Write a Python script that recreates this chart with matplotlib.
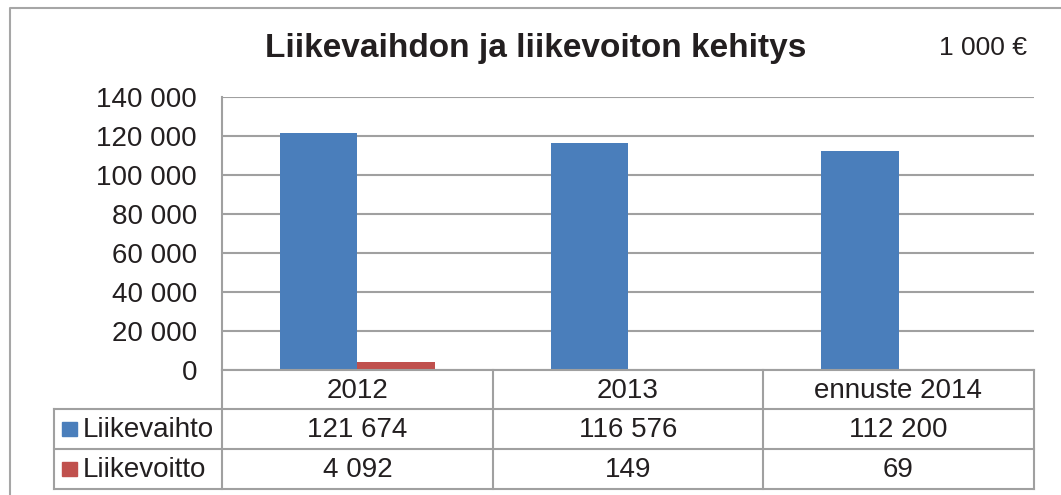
import matplotlib.pyplot as plt
from matplotlib.lines import Line2D
from matplotlib.patches import Rectangle

plt.rcParams['font.family'] = ['Liberation Sans', 'DejaVu Sans']

# Data
categories = ['2012', '2013', 'ennuste 2014']
liikevaihto = [121674, 116576, 112200]
liikevoitto = [4092, 149, 69]
series_names = ['Liikevaihto', 'Liikevoitto']
value_labels = [['121 674', '116 576', '112 200'], ['4 092', '149', '69']]
y_ticks = [0, 20000, 40000, 60000, 80000, 100000, 120000, 140000]
y_ticklabels = ['0', '20 000', '40 000', '60 000', '80 000', '100 000', '120 000', '140 000']

blue = '#4a7ebb'
red = '#c0504d'
grid_col = '#a0a0a0'
text_col = '#231f20'

W, H = 1061, 495
fig = plt.figure(figsize=(W / 100, H / 100), dpi=100)


def fx(px):
    return px / W


def fy(py):
    return 1 - py / H


# outer chart border (left/top visible)
fig.add_artist(Line2D([fx(10), fx(10), fx(1061)], [fy(495), fy(7.5), fy(7.5)],
                      color='#a6a6a6', lw=1.5))

# Plot area
left, right, top, bottom = 222, 1034, 97, 370
ax = fig.add_axes([fx(left), fy(bottom), fx(right - left), (bottom - top) / H])

x = range(len(categories))
bw = 1 / 3.5
ax.bar([i - bw / 2 for i in x], liikevaihto, width=bw, color=blue, zorder=3)
ax.bar([i + bw / 2 for i in x], liikevoitto, width=bw, color=red, zorder=3)

ax.set_xlim(-0.5, len(categories) - 0.5)
ax.set_ylim(0, 140000)
ax.set_yticks(y_ticks)
ax.set_yticklabels(y_ticklabels, fontsize=20, color=text_col)
ax.tick_params(axis='y', length=0, pad=18)
ax.set_xticks([])
ax.yaxis.grid(True, color=grid_col, lw=1.5, zorder=0)
for s in ['top', 'right', 'bottom']:
    ax.spines[s].set_visible(False)
ax.spines['left'].set_color(grid_col)
ax.spines['left'].set_linewidth(1.5)

# Title and unit
fig.text(fx(536), fy(48), 'Liikevaihdon ja liikevoiton kehitys', ha='center', va='center',
         fontsize=24, fontweight='bold', color=text_col)
fig.text(fx(1027), fy(48), '1 000 €', ha='right', va='center', fontsize=19, color=text_col)

# Data table
rows = [370, 409, 449, 489]
cols = [222, 493, 763, 1034]
tleft = 54
lw = 1.5
for c in cols:
    fig.add_artist(Line2D([fx(c), fx(c)], [fy(rows[0]), fy(rows[-1])], color=grid_col, lw=lw))
fig.add_artist(Line2D([fx(left), fx(right)], [fy(rows[0]), fy(rows[0])], color=grid_col, lw=lw))
for r in rows[1:]:
    fig.add_artist(Line2D([fx(tleft), fx(right)], [fy(r), fy(r)], color=grid_col, lw=lw))
fig.add_artist(Line2D([fx(tleft), fx(tleft)], [fy(rows[1]), fy(rows[-1])], color=grid_col, lw=lw))

for j, cat in enumerate(categories):
    cx = (cols[j] + cols[j + 1]) / 2
    fig.text(fx(cx), fy((rows[0] + rows[1]) / 2 + 1), cat, ha='center', va='center',
             fontsize=20, color=text_col)
    for i in range(2):
        cy = (rows[i + 1] + rows[i + 2]) / 2 + 1
        fig.text(fx(cx), fy(cy), value_labels[i][j], ha='center', va='center',
                 fontsize=20, color=text_col)

for i, (name, col) in enumerate(zip(series_names, [blue, red])):
    cy = (rows[i + 1] + rows[i + 2]) / 2
    fig.add_artist(Rectangle((fx(62), fy(cy + 7)), fx(15), 14 / H, color=col))
    fig.text(fx(83), fy(cy + 1), name, ha='left', va='center', fontsize=20, color=text_col)

fig.savefig('out.png', dpi=100)
